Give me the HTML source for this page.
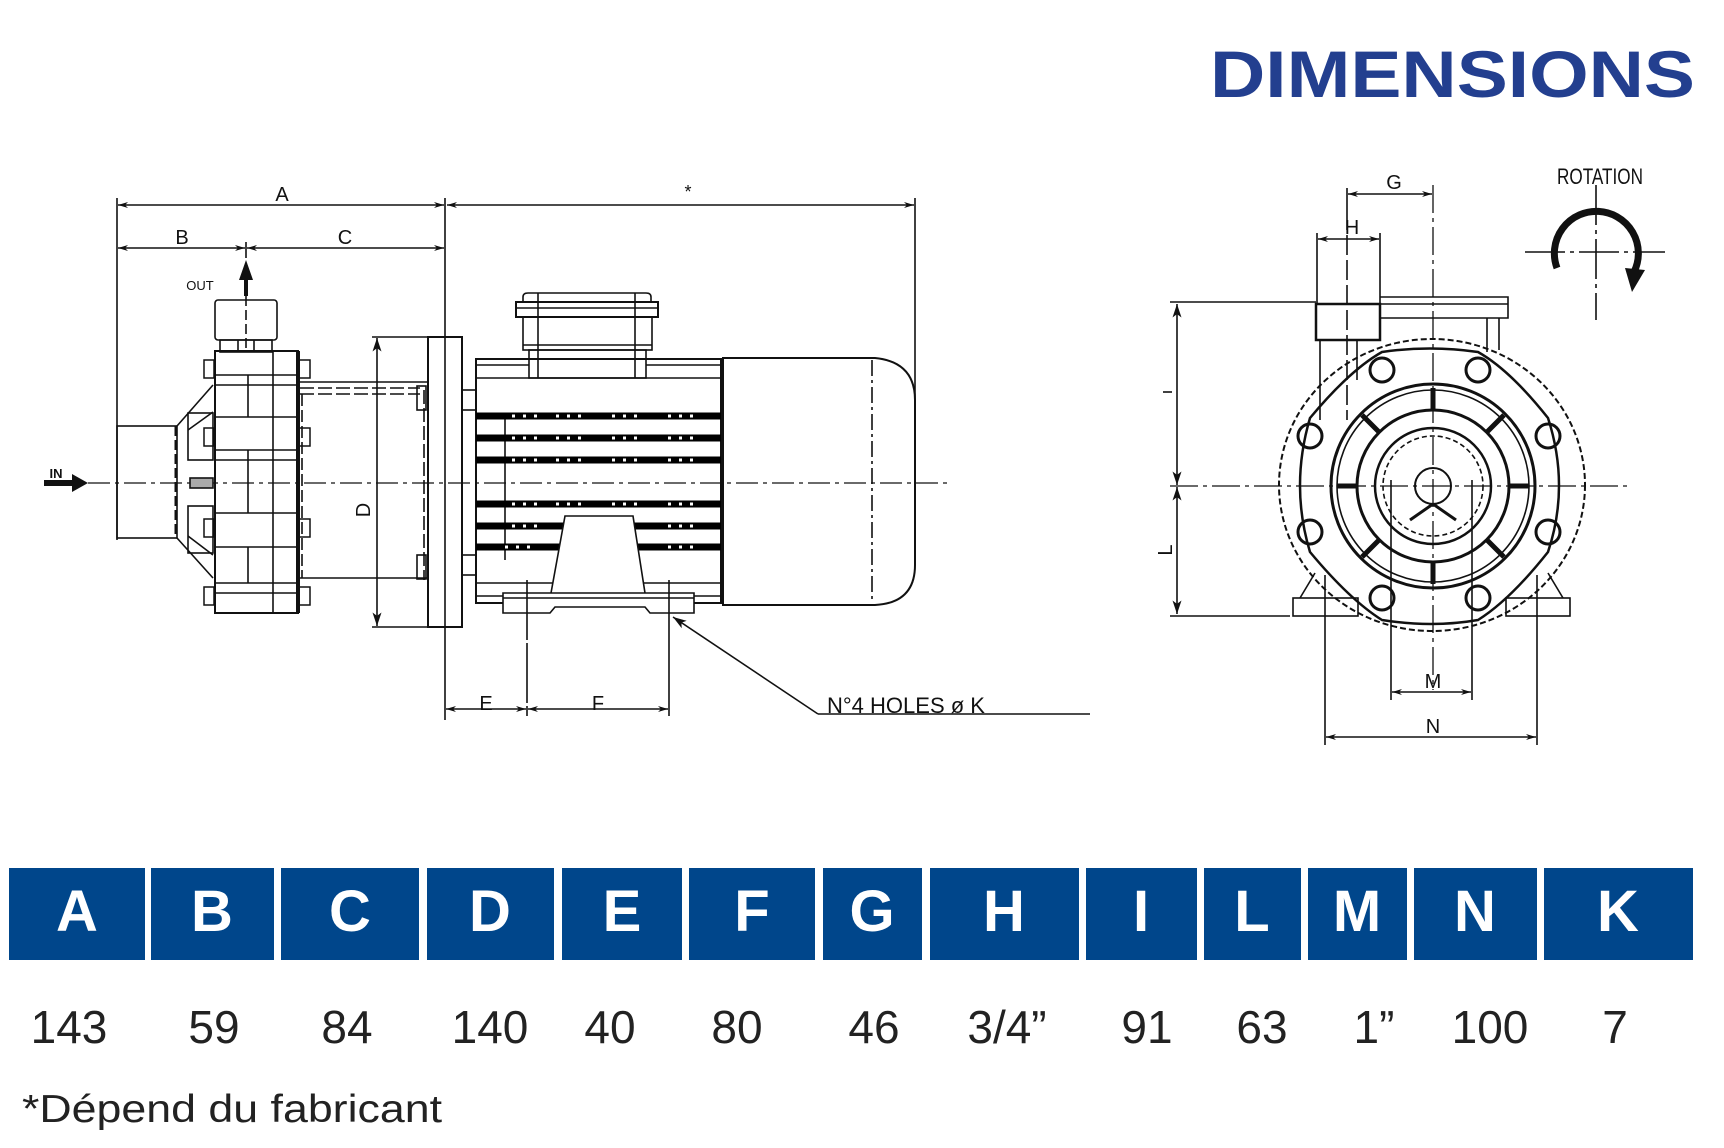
<!DOCTYPE html>
<html><head><meta charset="utf-8"><style>
html,body{margin:0;padding:0;background:#fff}
svg{display:block}
</style></head><body>
<svg width="1724" height="1148" viewBox="0 0 1724 1148" xmlns="http://www.w3.org/2000/svg">
<defs>
<marker id="ar" viewBox="0 0 10 6" refX="10" refY="3" markerWidth="10" markerHeight="6" orient="auto-start-reverse" markerUnits="userSpaceOnUse"><path d="M0,0 L10,3 L0,6 L3,3 Z" fill="#111"/></marker>
<marker id="arb" viewBox="0 0 12 8" refX="12" refY="4" markerWidth="14" markerHeight="9" orient="auto-start-reverse" markerUnits="userSpaceOnUse"><path d="M0,0 L12,4 L0,8 L3,4 Z" fill="#111"/></marker>
</defs>

<!-- Title -->
<text x="1210" y="97" font-family="Liberation Sans, sans-serif" font-weight="bold" font-size="66" fill="#233f8f" textLength="485" lengthAdjust="spacingAndGlyphs">DIMENSIONS</text>

<g fill="none" stroke="#111" stroke-width="1.6" font-family="Liberation Sans, sans-serif">
<!-- ===== LEFT VIEW DIMENSIONS ===== -->
<line x1="117" y1="198" x2="117" y2="540"/>
<line x1="445" y1="198" x2="445" y2="720"/>
<line x1="915" y1="198" x2="915" y2="420"/>
<line x1="118" y1="205" x2="444" y2="205" marker-start="url(#ar)" marker-end="url(#ar)"/>
<line x1="447" y1="205" x2="914" y2="205" marker-start="url(#ar)" marker-end="url(#ar)"/>
<line x1="118" y1="248" x2="245" y2="248" marker-start="url(#ar)" marker-end="url(#ar)"/>
<line x1="247" y1="248" x2="444" y2="248" marker-start="url(#ar)" marker-end="url(#ar)"/>
<line x1="246" y1="242" x2="246" y2="258"/>
<!-- OUT arrow -->
<line x1="246" y1="280" x2="246" y2="296" stroke-width="4"/>
<path d="M239,280 L246,260 L253,280 Z" fill="#111" stroke="none"/>
<!-- IN arrow -->
<line x1="44" y1="483" x2="74" y2="483" stroke-width="6"/>
<path d="M72,474 L88,483 L72,492 Z" fill="#111" stroke="none"/>

<!-- centerline -->
<line x1="88" y1="483" x2="950" y2="483" stroke-dasharray="22,5,4,5" stroke-width="1.3"/>

<!-- inlet -->
<rect x="117" y="426" width="60" height="112"/>
<line x1="176" y1="426" x2="176" y2="538" stroke-width="3" stroke-dasharray="10,4"/>
<line x1="177" y1="426" x2="213" y2="385"/>
<line x1="177" y1="538" x2="213" y2="578"/>
<rect x="188" y="413" width="25" height="47"/>
<rect x="188" y="506" width="25" height="47"/>
<line x1="188" y1="430" x2="213" y2="412"/>
<line x1="188" y1="536" x2="213" y2="555"/>
<rect x="190" y="478" width="23" height="10" fill="#aaa"/>

<!-- outlet -->
<rect x="215" y="300" width="62" height="40" rx="3"/>
<rect x="220" y="340" width="52" height="12"/>
<line x1="238" y1="340" x2="238" y2="352"/><line x1="254" y1="340" x2="254" y2="352"/>
<line x1="246" y1="296" x2="246" y2="350" stroke-dasharray="10,4"/>

<!-- pump body -->
<rect x="215" y="351" width="83" height="262" stroke-width="2"/>
<line x1="273" y1="351" x2="273" y2="613"/>
<line x1="248" y1="375" x2="248" y2="417"/>
<line x1="248" y1="450" x2="248" y2="513"/>
<line x1="248" y1="547" x2="248" y2="583"/>
<line x1="215" y1="375" x2="298" y2="375"/>
<line x1="215" y1="385" x2="298" y2="385"/>
<line x1="215" y1="417" x2="298" y2="417"/>
<line x1="215" y1="450" x2="298" y2="450"/>
<line x1="215" y1="460" x2="298" y2="460"/>
<line x1="215" y1="513" x2="298" y2="513"/>
<line x1="215" y1="547" x2="298" y2="547"/>
<line x1="215" y1="583" x2="298" y2="583"/>
<line x1="215" y1="593" x2="298" y2="593"/>
<!-- bolts -->
<g stroke-width="1.5">
<rect x="204" y="360" width="10" height="18"/><rect x="204" y="428" width="10" height="18"/>
<rect x="204" y="519" width="10" height="18"/><rect x="204" y="587" width="10" height="18"/>
<rect x="299" y="360" width="11" height="18"/><rect x="299" y="428" width="11" height="18"/>
<rect x="299" y="519" width="11" height="18"/><rect x="299" y="587" width="11" height="18"/>
</g>
<line x1="298" y1="351" x2="298" y2="613" stroke-width="4"/>

<!-- lantern -->
<line x1="300" y1="382" x2="427" y2="382"/>
<line x1="300" y1="388" x2="420" y2="388" stroke-dasharray="14,4"/>
<line x1="300" y1="394" x2="420" y2="394" stroke-dasharray="14,4"/>
<line x1="300" y1="578" x2="427" y2="578"/>
<line x1="302" y1="394" x2="302" y2="578" stroke-dasharray="12,4"/>
<line x1="424" y1="390" x2="424" y2="580" stroke-dasharray="14,4"/>
<rect x="417" y="386" width="9" height="24"/>
<rect x="417" y="555" width="9" height="24"/>

<!-- D dim -->
<line x1="372" y1="337" x2="428" y2="337"/>
<line x1="372" y1="627" x2="428" y2="627"/>
<line x1="377" y1="338" x2="377" y2="626" marker-start="url(#arb)" marker-end="url(#arb)"/>

<!-- flange -->
<rect x="428" y="337" width="34" height="290" stroke-width="2"/>
<rect x="462" y="390" width="14" height="20"/>
<rect x="462" y="555" width="14" height="20"/>

<!-- motor terminal box -->
<path d="M523,302 L523,297 Q523,293 528,293 L646,293 Q651,293 651,297 L651,302" />
<rect x="516" y="302" width="142" height="15" stroke-width="2"/>
<line x1="516" y1="308" x2="658" y2="308"/>
<rect x="523" y="317" width="129" height="33"/>
<line x1="523" y1="345" x2="652" y2="345"/>
<rect x="529" y="350" width="117" height="28"/>
<line x1="538" y1="293" x2="538" y2="378"/><line x1="635" y1="293" x2="635" y2="378"/>

<!-- motor body -->
<rect x="476" y="359" width="245" height="244" stroke-width="2"/>
<line x1="476" y1="365" x2="529" y2="365"/><line x1="646" y1="365" x2="721" y2="365"/>
<line x1="476" y1="378" x2="721" y2="378"/>
<line x1="476" y1="583" x2="721" y2="583"/>
<line x1="476" y1="596" x2="721" y2="596"/>
<line x1="505" y1="418" x2="505" y2="560"/>
<g stroke="#000" stroke-width="7">
<line x1="476" y1="416" x2="721" y2="416"/>
<line x1="476" y1="438" x2="721" y2="438"/>
<line x1="476" y1="460" x2="721" y2="460"/>
<line x1="476" y1="504" x2="721" y2="504"/>
<line x1="476" y1="526" x2="721" y2="526"/>
<line x1="476" y1="547" x2="721" y2="547"/>
</g>
<g stroke="#fff" stroke-width="3" stroke-dasharray="3,8">
<line x1="512" y1="416" x2="540" y2="416"/><line x1="556" y1="416" x2="584" y2="416"/><line x1="612" y1="416" x2="640" y2="416"/><line x1="668" y1="416" x2="696" y2="416"/>
<line x1="512" y1="438" x2="540" y2="438"/><line x1="556" y1="438" x2="584" y2="438"/><line x1="612" y1="438" x2="640" y2="438"/><line x1="668" y1="438" x2="696" y2="438"/>
<line x1="512" y1="460" x2="540" y2="460"/><line x1="556" y1="460" x2="584" y2="460"/><line x1="612" y1="460" x2="640" y2="460"/><line x1="668" y1="460" x2="696" y2="460"/>
<line x1="512" y1="504" x2="540" y2="504"/><line x1="556" y1="504" x2="584" y2="504"/><line x1="612" y1="504" x2="640" y2="504"/><line x1="668" y1="504" x2="696" y2="504"/>
<line x1="512" y1="526" x2="540" y2="526"/><line x1="668" y1="526" x2="696" y2="526"/>
<line x1="505" y1="547" x2="533" y2="547"/><line x1="668" y1="547" x2="696" y2="547"/>
</g>
<!-- foot pedestal -->
<path d="M551,593 L565,516 L633,516 L645,593" fill="#fff"/>
<path d="M503,593 L694,593 L694,613 L650,613 L645,607 L555,607 L550,613 L503,613 Z" fill="#fff"/>
<line x1="503" y1="598" x2="694" y2="598"/>

<!-- fan cover -->
<path d="M723,358 L875,358 Q915,362 915,400 L915,565 Q915,603 875,605 L723,605 Z" stroke-width="2"/>
<line x1="872" y1="360" x2="872" y2="603" stroke-dasharray="16,4,3,4"/>

<!-- E F -->
<line x1="527" y1="580" x2="527" y2="716" stroke-dasharray="60,3"/>
<line x1="669" y1="580" x2="669" y2="716"/>
<line x1="446" y1="709" x2="526" y2="709" marker-start="url(#ar)" marker-end="url(#ar)"/>
<line x1="528" y1="709" x2="668" y2="709" marker-start="url(#ar)" marker-end="url(#ar)"/>
<!-- leader -->
<line x1="818" y1="714" x2="1090" y2="714"/>
<line x1="818" y1="714" x2="673" y2="617" marker-end="url(#arb)"/>

<!-- ===== RIGHT VIEW ===== -->
<line x1="1433" y1="185" x2="1433" y2="690" stroke-dasharray="28,5,4,5" stroke-width="1.3"/>
<line x1="1170" y1="486" x2="1628" y2="486" stroke-dasharray="28,5,4,5" stroke-width="1.3"/>
<ellipse cx="1432" cy="485" rx="153" ry="146" stroke-dasharray="6,3" stroke-width="2"/>
<!-- holed flange outline -->
<path d="M1382,352 Q1430,345 1478,352 Q1510,370 1548,418 Q1570,486 1548,552 Q1510,600 1478,620 Q1432,628 1382,620 Q1350,600 1310,552 Q1290,486 1310,418 Q1350,370 1382,352 Z" stroke-width="2.5"/>
<g stroke-width="3">
<circle cx="1382" cy="370" r="12"/><circle cx="1478" cy="370" r="12"/>
<circle cx="1310" cy="436" r="12"/><circle cx="1548" cy="436" r="12"/>
<circle cx="1310" cy="532" r="12"/><circle cx="1548" cy="532" r="12"/>
<circle cx="1382" cy="598" r="12"/><circle cx="1478" cy="598" r="12"/>
</g>
<circle cx="1433" cy="486" r="102" stroke-width="3"/>
<circle cx="1433" cy="486" r="96"/>
<circle cx="1433" cy="486" r="76" stroke-width="3"/>
<circle cx="1433" cy="486" r="58" stroke-width="2.5"/>
<circle cx="1433" cy="486" r="50" stroke-dasharray="5,3"/>
<circle cx="1433" cy="486" r="18" stroke-width="2"/>
<g stroke-width="5">
<line x1="1433" y1="388" x2="1433" y2="410"/><line x1="1433" y1="562" x2="1433" y2="584"/>
<line x1="1337" y1="486" x2="1357" y2="486"/><line x1="1509" y1="486" x2="1529" y2="486"/>
<line x1="1362" y1="415" x2="1380" y2="433"/><line x1="1504" y1="415" x2="1486" y2="433"/>
<line x1="1362" y1="557" x2="1380" y2="539"/><line x1="1504" y1="557" x2="1486" y2="539"/>
</g>
<line x1="1433" y1="504" x2="1410" y2="520" stroke-width="3"/><line x1="1433" y1="504" x2="1456" y2="520" stroke-width="3"/>
<!-- outlet -->
<rect x="1316" y="304" width="64" height="36" stroke-width="2.5" fill="#fff"/>
<line x1="1320" y1="340" x2="1320" y2="420"/><line x1="1357" y1="340" x2="1357" y2="380"/>
<line x1="1347" y1="210" x2="1347" y2="420" stroke-dasharray="20,5"/>
<!-- terminal box -->
<path d="M1380,297 L1508,297 L1508,318 L1380,318" />
<line x1="1380" y1="304" x2="1508" y2="304"/>
<line x1="1487" y1="318" x2="1487" y2="352"/><line x1="1499" y1="318" x2="1499" y2="350"/>
<!-- feet -->
<rect x="1293" y="598" width="65" height="18"/>
<rect x="1506" y="598" width="64" height="18"/>
<line x1="1300" y1="598" x2="1315" y2="573"/><line x1="1563" y1="598" x2="1548" y2="573"/>
<!-- I L -->
<line x1="1170" y1="302" x2="1316" y2="302"/>
<line x1="1170" y1="616" x2="1290" y2="616"/>
<line x1="1177" y1="304" x2="1177" y2="485" marker-start="url(#arb)" marker-end="url(#arb)"/>
<line x1="1177" y1="487" x2="1177" y2="614" marker-start="url(#arb)" marker-end="url(#arb)"/>
<line x1="1163" y1="392" x2="1172" y2="392"/>
<!-- G H -->
<line x1="1347" y1="188" x2="1347" y2="210"/>
<line x1="1348" y1="194" x2="1432" y2="194" marker-start="url(#ar)" marker-end="url(#ar)"/>
<line x1="1317" y1="233" x2="1317" y2="304"/><line x1="1380" y1="233" x2="1380" y2="304"/>
<line x1="1318" y1="239" x2="1379" y2="239" marker-start="url(#ar)" marker-end="url(#ar)"/>
<!-- M N -->
<line x1="1391" y1="480" x2="1391" y2="700"/><line x1="1472" y1="480" x2="1472" y2="700"/>
<line x1="1392" y1="692" x2="1471" y2="692" marker-start="url(#ar)" marker-end="url(#ar)"/>
<line x1="1325" y1="575" x2="1325" y2="745"/><line x1="1537" y1="575" x2="1537" y2="745"/>
<line x1="1326" y1="737" x2="1536" y2="737" marker-start="url(#ar)" marker-end="url(#ar)"/>
<!-- rotation -->
<line x1="1525" y1="252" x2="1665" y2="252" stroke-dasharray="40,5,4,5"/>
<line x1="1596" y1="185" x2="1596" y2="320" stroke-dasharray="40,5,4,5"/>
<path d="M1557,268 A42,42 0 1 1 1634,272" stroke-width="7"/>
<path d="M1625,268 L1645,270 L1632,292 Z" fill="#111" stroke="none"/>
</g>

<!-- Labels -->
<g font-family="Liberation Sans, sans-serif" fill="#111">
<text x="282" y="201" font-size="20" text-anchor="middle">A</text>
<text x="182" y="244" font-size="20" text-anchor="middle">B</text>
<text x="345" y="244" font-size="20" text-anchor="middle">C</text>
<text x="688" y="198" font-size="18" text-anchor="middle">*</text>
<text x="200" y="290" font-size="13" text-anchor="middle">OUT</text>
<text x="56" y="478" font-size="13" font-weight="bold" text-anchor="middle">IN</text>
<text transform="translate(370,510) rotate(-90)" font-size="20" text-anchor="middle">D</text>
<text x="486" y="710" font-size="20" text-anchor="middle">E</text>
<text x="598" y="710" font-size="20" text-anchor="middle">F</text>
<text x="827" y="713" font-size="22">N°4 HOLES ø K</text>
<text x="1394" y="189" font-size="20" text-anchor="middle">G</text>
<text x="1352" y="234" font-size="20" text-anchor="middle">H</text>
<text transform="translate(1172,550) rotate(-90)" font-size="20" text-anchor="middle">L</text>
<text x="1433" y="688" font-size="20" text-anchor="middle">M</text>
<text x="1433" y="733" font-size="20" text-anchor="middle">N</text>
<text x="1600" y="184" font-size="22" text-anchor="middle" textLength="86" lengthAdjust="spacingAndGlyphs">ROTATION</text>
</g>

<!-- Table header -->
<g fill="#00468b">
<rect x="9" y="868" width="136" height="92"/><rect x="151" y="868" width="123" height="92"/>
<rect x="281" y="868" width="138" height="92"/><rect x="427" y="868" width="127" height="92"/>
<rect x="562" y="868" width="120" height="92"/><rect x="689" y="868" width="126" height="92"/>
<rect x="823" y="868" width="99" height="92"/><rect x="930" y="868" width="149" height="92"/>
<rect x="1086" y="868" width="111" height="92"/><rect x="1204" y="868" width="97" height="92"/>
<rect x="1308" y="868" width="99" height="92"/><rect x="1414" y="868" width="123" height="92"/>
<rect x="1544" y="868" width="149" height="92"/>
</g>
<g font-family="Liberation Sans, sans-serif" font-weight="bold" font-size="58" fill="#fff" text-anchor="middle">
<text x="77" y="931">A</text><text x="212" y="931">B</text><text x="350" y="931">C</text>
<text x="490" y="931">D</text><text x="622" y="931">E</text><text x="752" y="931">F</text>
<text x="872" y="931">G</text><text x="1004" y="931">H</text><text x="1141" y="931">I</text>
<text x="1252" y="931">L</text><text x="1357" y="931">M</text><text x="1475" y="931">N</text>
<text x="1618" y="931">K</text>
</g>
<g font-family="Liberation Sans, sans-serif" font-size="46" fill="#222" text-anchor="middle">
<text x="69" y="1043">143</text><text x="214" y="1043">59</text><text x="347" y="1043">84</text>
<text x="490" y="1043">140</text><text x="610" y="1043">40</text><text x="737" y="1043">80</text>
<text x="874" y="1043">46</text><text x="1007" y="1043">3/4”</text><text x="1147" y="1043">91</text>
<text x="1262" y="1043">63</text><text x="1374" y="1043">1”</text><text x="1490" y="1043">100</text>
<text x="1615" y="1043">7</text>
</g>
<text x="22" y="1122" font-family="Liberation Sans, sans-serif" font-size="39" fill="#222" textLength="420" lengthAdjust="spacingAndGlyphs">*Dépend du fabricant</text>
</svg>
</body></html>
